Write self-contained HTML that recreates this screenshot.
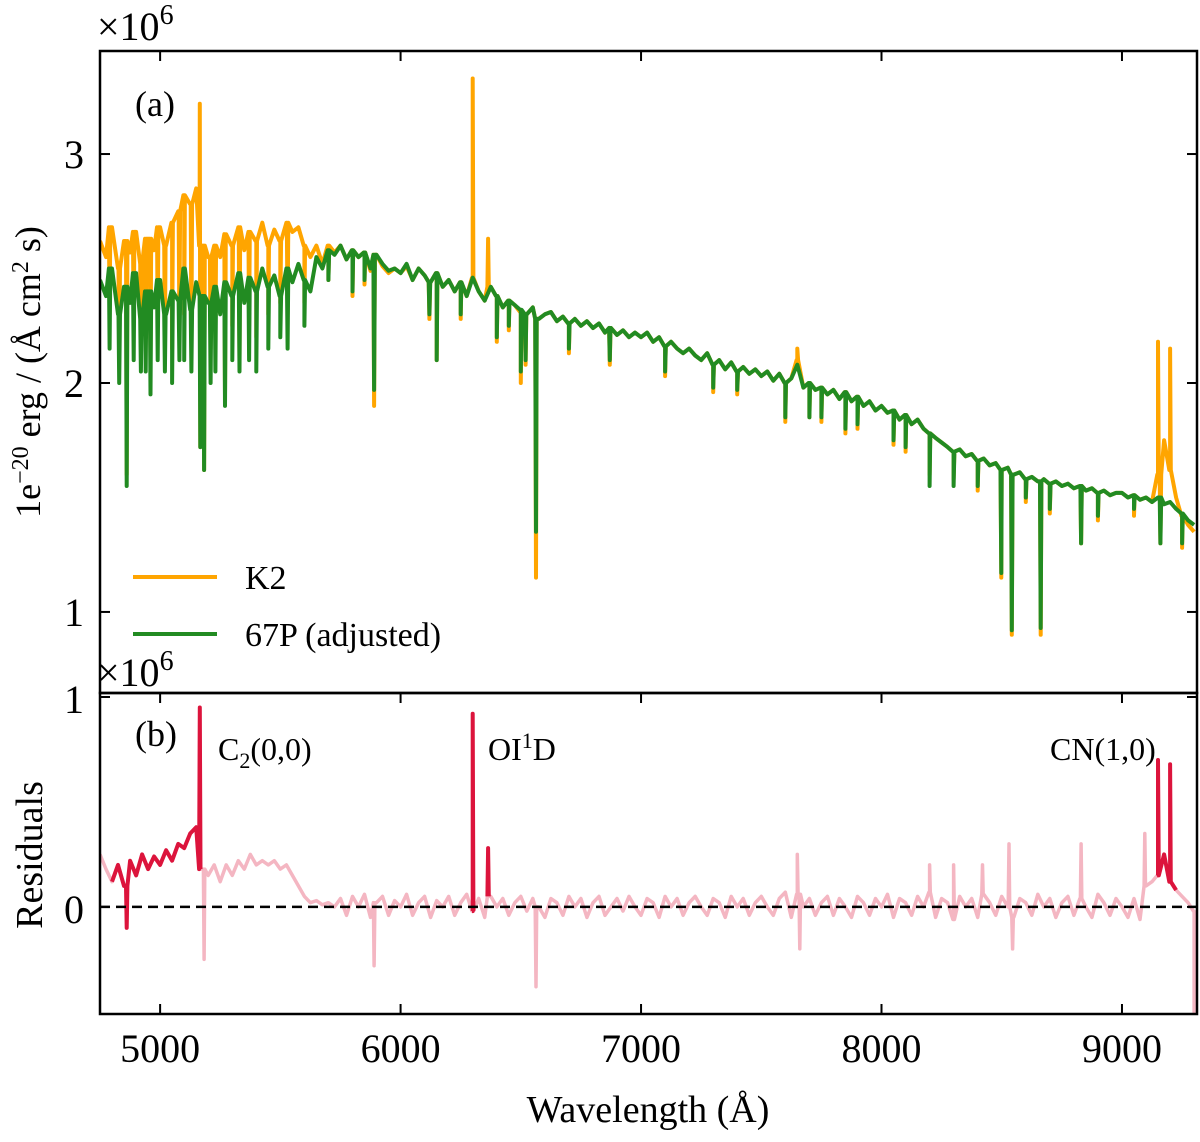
<!DOCTYPE html>
<html><head><meta charset="utf-8"><style>
body{margin:0;background:#fff}
svg text{font-family:"Liberation Serif",serif;fill:#000}
</style></head><body>
<svg id="chart" width="1200" height="1137" viewBox="0 0 1200 1137" xmlns="http://www.w3.org/2000/svg">
<defs><clipPath id="c1"><rect x="100" y="51" width="1097" height="642"/></clipPath>
<clipPath id="c2"><rect x="100" y="693" width="1097" height="321"/></clipPath></defs>
<g id="topPlot"></g>
<g id="botPlot"></g>
<g id="axes"></g>
<text x="97" y="40" font-size="40">×10<tspan dy="-16" font-size="28">6</tspan></text>
<text x="97" y="686" font-size="40">×10<tspan dy="-16" font-size="28">6</tspan></text>
<text x="135" y="116" font-size="36">(a)</text>
<text x="135" y="746" font-size="36">(b)</text>
<text x="218" y="760" font-size="32">C<tspan dy="8" font-size="22">2</tspan><tspan dy="-8">(0,0)</tspan></text>
<text x="488" y="760" font-size="32">OI<tspan dy="-12" font-size="22">1</tspan><tspan dy="12">D</tspan></text>
<text x="1050" y="760" font-size="32">CN(1,0)</text>
<g>
<line x1="133" y1="577" x2="217" y2="577" stroke="#FFA500" stroke-width="4"/>
<text x="245" y="589" font-size="34">K2</text>
<line x1="133" y1="634" x2="217" y2="634" stroke="#228B22" stroke-width="4"/>
<text x="245" y="646" font-size="34">67P (adjusted)</text>
</g>
<text transform="translate(40,372) rotate(-90)" text-anchor="middle" font-size="36">1e<tspan dy="-12" font-size="24">−20</tspan><tspan dy="12"> erg / (Å cm</tspan><tspan dy="-12" font-size="24">2</tspan><tspan dy="12"> s)</tspan></text>
<text transform="translate(42,855) rotate(-90)" text-anchor="middle" font-size="38">Residuals</text>
<text x="648" y="1122" text-anchor="middle" font-size="38">Wavelength (Å)</text>
</svg>
<script>
const wlStart = 4750, wlStep = 25;
const flux67P = [2.45,2.38,2.5,2.3,2.42,2.35,2.48,2.28,2.4,2.33,
2.45,2.3,2.4,2.36,2.5,2.32,2.44,2.38,2.35,2.42,
2.3,2.44,2.38,2.48,2.35,2.46,2.4,2.5,2.42,2.47,
2.38,2.5,2.44,2.52,2.45,2.4,2.55,2.5,2.58,2.56,
2.6,2.54,2.58,2.55,2.57,2.5,2.56,2.52,2.49,2.5,
2.48,2.52,2.45,2.5,2.47,2.44,2.48,2.42,2.45,2.4,
2.44,2.38,2.46,2.4,2.36,2.42,2.38,2.33,2.36,2.34,
2.32,2.3,2.33,2.28,2.3,2.31,2.27,2.29,2.26,2.28,
2.25,2.27,2.24,2.26,2.22,2.24,2.21,2.23,2.2,2.22,
2.2,2.22,2.18,2.2,2.16,2.18,2.15,2.13,2.15,2.12,
2.1,2.13,2.08,2.1,2.06,2.09,2.05,2.07,2.04,2.06,
2.03,2.05,2.01,2.04,2.0,2.02,2.08,1.98,2.0,1.97,
1.98,1.95,1.97,1.93,1.96,1.92,1.94,1.9,1.92,1.88,
1.9,1.87,1.88,1.84,1.86,1.82,1.84,1.8,1.78,1.76,
1.74,1.72,1.7,1.71,1.68,1.69,1.66,1.67,1.64,1.65,
1.62,1.63,1.6,1.61,1.58,1.59,1.57,1.58,1.56,1.57,
1.55,1.56,1.54,1.55,1.53,1.54,1.52,1.53,1.51,1.52,
1.52,1.5,1.51,1.49,1.5,1.48,1.5,1.47,1.48,1.45,
1.43,1.4,1.38];
const fluxK2 = [2.62,2.55,2.68,2.5,2.62,2.57,2.66,2.52,2.63,2.58,
2.68,2.6,2.7,2.75,2.82,2.78,2.85,2.6,2.55,2.6,
2.55,2.65,2.6,2.68,2.58,2.66,2.62,2.7,2.6,2.67,
2.62,2.7,2.66,2.68,2.6,2.55,2.6,2.52,2.6,2.57,
2.6,2.54,2.58,2.55,2.57,2.49,2.56,2.51,2.48,2.5,
2.48,2.51,2.45,2.5,2.47,2.44,2.48,2.42,2.45,2.4,
2.44,2.38,2.46,2.4,2.36,2.42,2.38,2.33,2.36,2.34,
2.31,2.3,2.33,2.28,2.3,2.31,2.27,2.29,2.26,2.28,
2.25,2.27,2.24,2.26,2.22,2.24,2.21,2.23,2.2,2.22,
2.2,2.22,2.18,2.2,2.16,2.18,2.15,2.13,2.15,2.12,
2.1,2.13,2.08,2.1,2.06,2.09,2.05,2.07,2.04,2.06,
2.03,2.05,2.01,2.04,2.0,2.02,2.1,1.98,2.0,1.97,
1.98,1.95,1.97,1.93,1.96,1.92,1.94,1.9,1.92,1.88,
1.9,1.87,1.88,1.84,1.86,1.82,1.84,1.8,1.78,1.76,
1.74,1.72,1.7,1.71,1.68,1.69,1.66,1.67,1.64,1.65,
1.62,1.63,1.6,1.61,1.58,1.59,1.57,1.58,1.56,1.57,
1.55,1.56,1.54,1.55,1.53,1.54,1.52,1.53,1.51,1.52,
1.52,1.5,1.51,1.49,1.5,1.48,1.6,1.75,1.62,1.5,
1.42,1.38,1.35];
const residual = [0.25,0.18,0.12,0.2,0.1,0.22,0.15,0.25,0.18,0.24,
0.2,0.27,0.22,0.3,0.28,0.35,0.38,0.18,0.15,0.2,
0.12,0.2,0.15,0.22,0.18,0.25,0.2,0.22,0.2,0.22,
0.18,0.2,0.15,0.1,0.05,0.02,0.03,0.01,0.02,0.0,
0.04,-0.04,0.05,0.0,0.06,-0.05,0.02,0.05,-0.04,0.03,
0.0,0.06,-0.04,0.02,0.05,-0.05,0.03,0.0,0.05,-0.04,
0.02,0.06,-0.02,0.04,-0.05,0.05,0.0,0.04,-0.04,0.02,
0.05,-0.02,0.04,0.0,-0.05,0.04,0.02,-0.04,0.05,0.0,
0.04,-0.05,0.02,0.05,-0.04,0.0,0.04,-0.02,0.05,0.0,
-0.04,0.04,0.02,-0.05,0.05,0.0,0.04,-0.04,0.02,0.05,
0.0,-0.04,0.04,0.02,-0.05,0.05,0.0,0.04,-0.04,0.02,
0.05,0.0,-0.04,0.04,0.07,-0.05,0.06,0.0,0.04,-0.04,
0.02,0.05,-0.04,0.04,0.0,-0.05,0.05,0.02,-0.04,0.04,
0.0,0.06,-0.05,0.04,0.02,-0.04,0.05,0.0,0.07,-0.05,
0.04,0.02,-0.06,0.05,0.0,0.04,-0.05,0.06,0.02,-0.04,
0.05,0.0,-0.05,0.04,0.02,-0.04,0.06,0.0,0.04,-0.05,
0.02,0.05,-0.04,0.04,0.0,-0.05,0.06,0.02,-0.04,0.04,
0.0,-0.05,0.04,-0.06,0.1,0.12,0.15,0.25,0.12,0.08,
0.05,0.02,-0.02];
const lineWl = [4790,4830,4861,4890,4920,4940,4960,4990,5020,5050,5080,5100,5130,5167,5172,5183,5210,5230,5270,5300,5330,5370,5400,5450,5500,5530,5600,5700,5800,5850,5890,6120,6150,6250,6400,6450,6500,6520,6563,6700,6870,7100,7300,7400,7600,7700,7750,7850,7900,8050,8100,8200,8300,8400,8498,8542,8600,8662,8700,8830,8900,9050,9160,9250];
const line67P = [2.15,2.0,1.55,2.1,2.05,2.05,1.95,2.1,2.05,2.0,2.1,2.1,2.05,1.72,1.75,1.62,2.0,2.05,1.9,2.1,2.05,2.1,2.05,2.15,2.2,2.15,2.25,2.45,2.4,2.45,1.97,2.3,2.1,2.3,2.2,2.25,2.05,2.1,1.35,2.15,2.1,2.05,1.98,1.97,1.85,1.85,1.85,1.8,1.82,1.75,1.72,1.55,1.55,1.55,1.17,0.92,1.5,0.93,1.45,1.3,1.42,1.45,1.3,1.3];
const lineK2 = [2.3,2.15,1.6,2.25,2.2,2.2,2.1,2.25,2.2,2.15,2.25,2.3,2.2,1.72,1.75,1.62,2.15,2.2,1.95,2.25,2.1,2.25,2.2,2.3,2.35,2.3,2.35,2.45,2.38,2.43,1.9,2.28,2.1,2.28,2.18,2.23,2.0,2.08,1.15,2.13,2.08,2.03,1.96,1.95,1.83,1.85,1.83,1.78,1.8,1.73,1.7,1.6,1.58,1.53,1.15,0.9,1.48,0.9,1.43,1.3,1.4,1.42,1.3,1.28];
const emisWl = [5165,6300,6364,7650,9150,9200];
const emisK2 = [3.22,3.33,2.63,2.15,2.18,2.15];
const resFeatWl = [4861,5165,5183,5890,6300,6364,6563,7650,7660,8200,8300,8420,8530,8545,8830,9095,9150,9200,9300];
const resFeatVal = [-0.1,0.95,-0.25,-0.28,0.92,0.28,-0.38,0.25,-0.2,0.2,0.2,0.2,0.3,-0.2,0.3,0.35,0.7,0.68,-0.5];
const xTicks = [5000,6000,7000,8000,9000];
const topTicks = [1,2,3];
const botTicks = [0,1];

const L=100,R=1197,T1=51,B1=693,T2=693,B2=1014;
const xMin=4750,xMax=9312;
const X=w=>L+(w-xMin)/(xMax-xMin)*(R-L);
const Y1=v=>T1+(3.45-v)/(3.45-0.646)*(B1-T1);
const Y2=v=>T2+(1.019-v)/(1.019+0.51)*(B2-T2);
const NS='http://www.w3.org/2000/svg';
function mk(tag,attrs,parent){const e=document.createElementNS(NS,tag);for(const k in attrs)e.setAttribute(k,attrs[k]);parent.appendChild(e);return e;}
function nearest(arr,w){let i=Math.round((w-wlStart)/wlStep);i=Math.max(0,Math.min(arr.length-1,i));return arr[i];}
function buildSeries(base,fw,fv){
  const pts=base.map((v,i)=>[wlStart+i*wlStep,v]);
  fw.forEach((w,i)=>{const b=nearest(base,w);pts.push([w-3,b],[w,fv[i]],[w+3,b]);});
  pts.sort((a,b)=>a[0]-b[0]);
  return pts;
}
function pathOf(pts,Y){return pts.map((p,i)=>(i?'L':'M')+X(p[0]).toFixed(1)+','+Y(p[1]).toFixed(1)).join('');}
const topG=document.getElementById('topPlot'),botG=document.getElementById('botPlot'),axG=document.getElementById('axes');
const k2pts=buildSeries(fluxK2,lineWl.concat(emisWl),lineK2.concat(emisK2));
const gpts=buildSeries(flux67P,lineWl,line67P);
const pk=mk('path',{d:pathOf(k2pts,Y1),fill:'none',stroke:'#FFA500','stroke-width':4,'stroke-linejoin':'round','clip-path':'url(#c1)'},topG);


const pg=mk('path',{d:pathOf(gpts,Y1),fill:'none',stroke:'#228B22','stroke-width':4,'stroke-linejoin':'round','clip-path':'url(#c1)'},topG);


const rpts=buildSeries(residual,resFeatWl,resFeatVal);
const pr=mk('path',{d:pathOf(rpts,Y2),fill:'none',stroke:'#F4B6C2','stroke-width':3.5,'stroke-linejoin':'round','clip-path':'url(#c2)'},botG);


const hiRanges=[[4790,5172],[6290,6312],[6358,6370],[9135,9245]];
hiRanges.forEach(r=>{
  const seg=rpts.filter(p=>p[0]>=r[0]&&p[0]<=r[1]);
  const ph=mk('path',{d:pathOf(seg,Y2),fill:'none',stroke:'#DC143C','stroke-width':4,'stroke-linejoin':'round'},botG);
  
  
});
const zl=mk('line',{x1:L,x2:R,y1:Y2(0),y2:Y2(0),stroke:'#000','stroke-width':2.5,'stroke-dasharray':'10,6'},botG);


[[T1,B1],[T2,B2]].forEach(f=>{const r=mk('rect',{x:L,y:f[0],width:R-L,height:f[1]-f[0],fill:'none',stroke:'#000','stroke-width':2.5},axG);

});
xTicks.forEach(w=>{
  const x=X(w);
  mk('line',{x1:x,x2:x,y1:T1,y2:T1+10,stroke:'#000','stroke-width':2},axG);
  mk('line',{x1:x,x2:x,y1:T2,y2:T2+10,stroke:'#000','stroke-width':2},axG);
  mk('line',{x1:x,x2:x,y1:B2,y2:B2-10,stroke:'#000','stroke-width':2},axG);
  const t=mk('text',{x:x,y:1062,'text-anchor':'middle','font-size':40},axG);t.textContent=w;
  
  
});
topTicks.forEach(v=>{const y=Y1(v);
  mk('line',{x1:L,x2:L+10,y1:y,y2:y,stroke:'#000','stroke-width':2},axG);
  mk('line',{x1:R,x2:R-10,y1:y,y2:y,stroke:'#000','stroke-width':2},axG);
  const t=mk('text',{x:L-16,y:y+14,'text-anchor':'end','font-size':40},axG);t.textContent=v;
  
  
});
botTicks.forEach(v=>{const y=Y2(v);
  mk('line',{x1:L,x2:L+10,y1:y,y2:y,stroke:'#000','stroke-width':2},axG);
  mk('line',{x1:R,x2:R-10,y1:y,y2:y,stroke:'#000','stroke-width':2},axG);
  const t=mk('text',{x:L-16,y:y+16,'text-anchor':'end','font-size':40},axG);t.textContent=v;
  
  
});
</script>
</body></html>
